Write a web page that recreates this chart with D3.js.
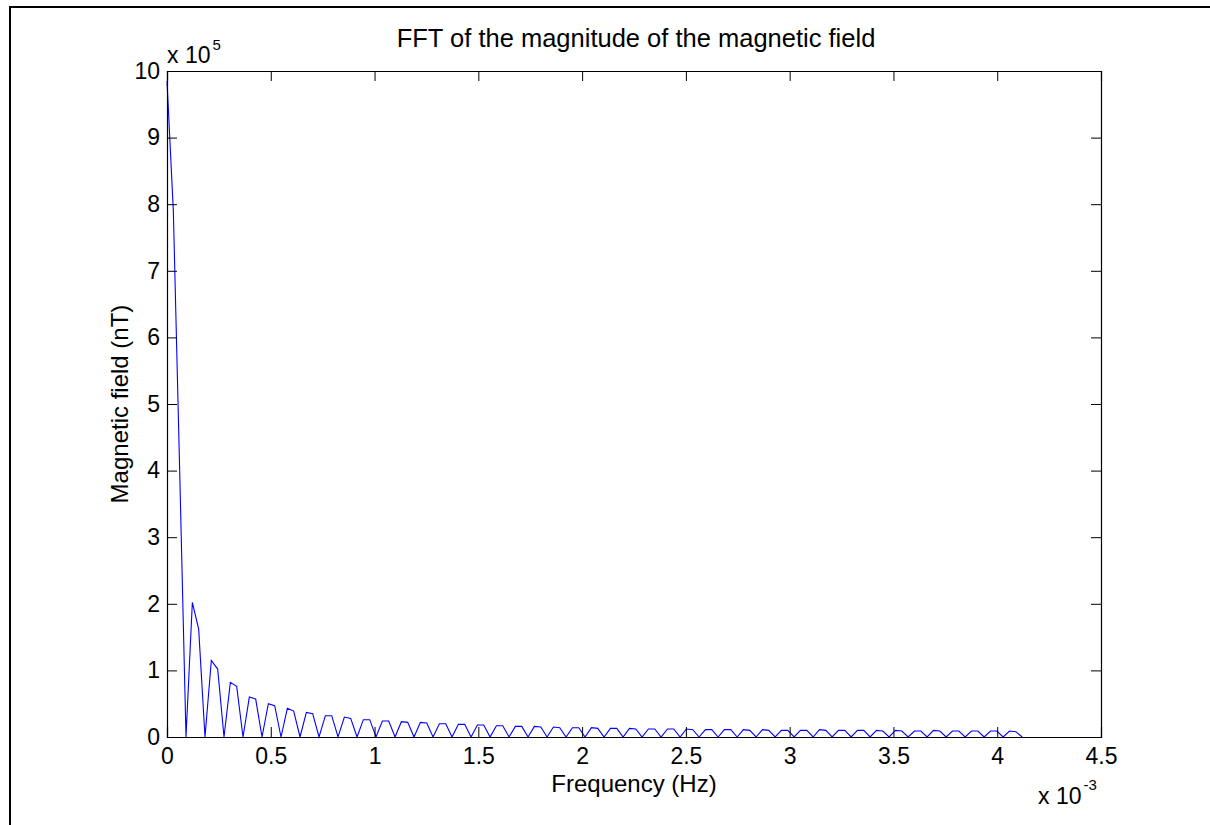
<!DOCTYPE html>
<html>
<head>
<meta charset="utf-8">
<script src="https://cdn.jsdelivr.net/npm/d3@7"></script>
<style>
  html, body { margin: 0; padding: 0; background: #fff; }
  svg { display: block; }
  text { font-family: "Liberation Sans", Arial, Helvetica, sans-serif; fill: #000; }
</style>
</head>
<body>
<svg id="chart" width="1210" height="825"></svg>
<script>
// FFT bin spacing (in units of 10^-3 Hz)
const binWidth = 0.03052;

// |FFT| of the field magnitude, in units of 10^5 nT, one value per bin
const magnitude = [
  9.85, 7.9, 4.0, 0,
  2.02, 1.62, 0,  1.15, 1.02, 0,  0.82, 0.76, 0,  0.60, 0.57, 0,
  0.50, 0.47, 0,  0.43, 0.39, 0,  0.37, 0.35, 0,  0.32, 0.32, 0,
  0.30, 0.28, 0,  0.26, 0.26, 0,  0.24, 0.24, 0,  0.23, 0.22, 0,
  0.22, 0.21, 0,  0.20, 0.20, 0,  0.19, 0.19, 0,  0.18, 0.18, 0,
  0.17, 0.17, 0,  0.16, 0.16, 0,  0.16, 0.15, 0,  0.15, 0.14, 0,
  0.14, 0.14, 0,  0.14, 0.13, 0,  0.13, 0.13, 0,  0.13, 0.12, 0,
  0.12, 0.12, 0,  0.12, 0.12, 0,  0.12, 0.11, 0,  0.11, 0.11, 0,
  0.11, 0.11, 0,  0.11, 0.10, 0,  0.11, 0.10, 0,  0.10, 0.10, 0,
  0.10, 0.10, 0,  0.11, 0.10, 0,  0.10, 0.10, 0,  0.10, 0.10, 0,
  0.10, 0.09, 0,  0.10, 0.09, 0,  0.09, 0.09, 0,  0.10, 0.09, 0,
  0.09, 0.09, 0,  0.09, 0.09, 0,  0.09, 0.09, 0,  0.09, 0.08, 0
];

const xTicks = [0, 0.5, 1, 1.5, 2, 2.5, 3, 3.5, 4, 4.5];
const xTickLabels = ["0", "0.5", "1", "1.5", "2", "2.5", "3", "3.5", "4", "4.5"];
const yTicks = [0, 1, 2, 3, 4, 5, 6, 7, 8, 9, 10];
const yTickLabels = ["0", "1", "2", "3", "4", "5", "6", "7", "8", "9", "10"];

const titleText = "FFT of the magnitude of the magnetic field";
const xLabelText = "Frequency (Hz)";
const yLabelText = "Magnetic field (nT)";

const svg = d3.select("#chart");

// figure frame
svg.append("path")
  .attr("d", "M10,825 V7 H1210")
  .attr("fill", "none")
  .attr("stroke", "#000")
  .attr("stroke-width", 2);

const plot = { left: 167, top: 71, right: 1101, bottom: 737 };

const x = d3.scaleLinear().domain([0, 4.5]).range([plot.left, plot.right]);
const y = d3.scaleLinear().domain([0, 10]).range([plot.bottom, plot.top]);

const tickFont = 23;
const labelFont = 24;
const tickLen = 10;

// data line
const pts = magnitude.map((v, i) => [i * binWidth, v]);
svg.append("path")
  .datum(pts)
  .attr("fill", "none")
  .attr("stroke", "#0000ff")
  .attr("stroke-width", 1.1)
  .attr("d", d3.line().x(d => x(d[0])).y(d => y(d[1])));

// axes (ticks pointing inward, box on)
const bottomAxis = d3.axisBottom(x).tickValues(xTicks).tickSize(-tickLen).tickPadding(11)
  .tickFormat((d, i) => xTickLabels[i]);
const topAxis = d3.axisTop(x).tickValues(xTicks).tickSize(-tickLen).tickFormat("");
const leftAxis = d3.axisLeft(y).tickValues(yTicks).tickSize(-tickLen).tickPadding(8)
  .tickFormat((d, i) => yTickLabels[i]);
const rightAxis = d3.axisRight(y).tickValues(yTicks).tickSize(-tickLen).tickFormat("");

function style(g) {
  g.select(".domain").attr("stroke", "#000").attr("stroke-width", 1.2);
  g.selectAll(".tick line").attr("stroke", "#000").attr("stroke-width", 1);
  g.selectAll(".tick text").attr("font-size", tickFont)
    .attr("font-family", "Liberation Sans, Arial, sans-serif").attr("fill", "#000");
}

svg.append("g").attr("transform", `translate(0,${plot.bottom})`).call(bottomAxis).call(style);
svg.append("g").attr("transform", `translate(0,${plot.top})`).call(topAxis).call(style);
const gl = svg.append("g").attr("transform", `translate(${plot.left},0)`).call(leftAxis).call(style);
gl.selectAll(".tick text").attr("x", -7);
svg.append("g").attr("transform", `translate(${plot.right},0)`).call(rightAxis).call(style);

// exponent multipliers
const yMul = svg.append("text").attr("x", 167).attr("y", 63).attr("font-size", tickFont);
yMul.append("tspan").text("x 10");
yMul.append("tspan").attr("dx", 2).attr("dy", -13).attr("font-size", 15).text("5");

const xMul = svg.append("text").attr("x", 1038).attr("y", 804).attr("font-size", tickFont);
xMul.append("tspan").text("x 10");
xMul.append("tspan").attr("dx", 2).attr("dy", -14).attr("font-size", 15).text("-3");

// title and axis labels
svg.append("text")
  .attr("x", (plot.left + plot.right) / 2 + 2).attr("y", 47)
  .attr("text-anchor", "middle").attr("font-size", 25.5)
  .text(titleText);

svg.append("text")
  .attr("x", (plot.left + plot.right) / 2).attr("y", 792)
  .attr("text-anchor", "middle").attr("font-size", labelFont)
  .text(xLabelText);

svg.append("text")
  .attr("transform", `translate(128,${(plot.top + plot.bottom) / 2}) rotate(-90)`)
  .attr("text-anchor", "middle").attr("font-size", labelFont)
  .text(yLabelText);
</script>
</body>
</html>
